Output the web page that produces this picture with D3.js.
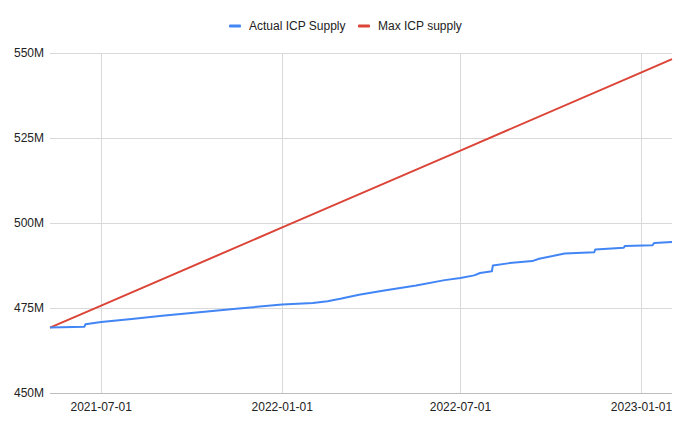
<!DOCTYPE html>
<html>
<head>
<meta charset="utf-8">
<script src="https://cdn.jsdelivr.net/npm/d3@7"></script>
<style>
  html, body { margin: 0; padding: 0; background: #fff; }
  svg { display: block; font-family: "Liberation Sans", Arial, sans-serif; }
</style>
</head>
<body>
<svg id="chart" width="690" height="427"></svg>
<script>
// ---- Data ----
const seriesNames = ["Actual ICP Supply", "Max ICP supply"];

const actualDates = [
  "2021-05-10", "2021-06-14", "2021-06-15", "2021-07-01", "2021-08-01", "2021-09-01",
  "2021-10-14", "2021-11-15", "2022-01-01", "2022-02-01", "2022-02-16", "2022-03-01",
  "2022-03-20", "2022-04-13", "2022-05-17", "2022-06-15", "2022-07-01", "2022-07-15",
  "2022-07-21", "2022-08-02", "2022-08-03", "2022-08-20", "2022-09-12", "2022-09-19",
  "2022-10-15", "2022-11-14", "2022-11-15", "2022-12-14", "2022-12-15", "2023-01-12",
  "2023-01-14", "2023-02-01"
];
const actualValues = [
  469.25, 469.5, 470.2, 470.9, 471.8, 472.7,
  473.9, 474.8, 476.0, 476.5, 477.0, 477.7,
  478.9, 480.1, 481.6, 483.2, 483.8, 484.6,
  485.3, 485.8, 487.5, 488.2, 488.8, 489.5,
  491.0, 491.4, 492.2, 492.7, 493.2, 493.45,
  494.15, 494.4
];

const maxDates = ["2021-05-10", "2021-07-01", "2022-01-01", "2022-07-01", "2023-01-01", "2023-02-01"];
const maxValues = [469.25, 475.7, 498.7, 521.3, 544.3, 548.2];

const yTicks = [450, 475, 500, 525, 550];
const xTickLabels = ["2021-07-01", "2022-01-01", "2022-07-01", "2023-01-01"];

// ---- Layout ----
const W = 690, H = 427;
const margin = { left: 50, right: 18, top: 53, bottom: 34 };
const parse = d3.utcParse("%Y-%m-%d");
const colors = ["#4285F4", "#DB4437"];

const svg = d3.select("#chart");

const x = d3.scaleUtc()
  .domain([parse("2021-05-10"), parse("2023-02-01")])
  .range([margin.left, W - margin.right]);
const y = d3.scaleLinear()
  .domain([450, 550])
  .range([H - margin.bottom, margin.top]);

// Grid: horizontal
svg.append("g")
  .selectAll("line")
  .data(yTicks)
  .join("line")
  .attr("x1", margin.left).attr("x2", W - margin.right)
  .attr("y1", d => Math.round(y(d)) + 0.5).attr("y2", d => Math.round(y(d)) + 0.5)
  .attr("stroke", d => d === 450 ? "#bdbdbd" : "#d9d9d9")
  .attr("stroke-width", 1);

// Grid: vertical
svg.append("g")
  .selectAll("line")
  .data(xTickLabels)
  .join("line")
  .attr("x1", d => Math.round(x(parse(d))) + 0.5).attr("x2", d => Math.round(x(parse(d))) + 0.5)
  .attr("y1", margin.top).attr("y2", H - margin.bottom)
  .attr("stroke", "#d9d9d9")
  .attr("stroke-width", 1);

// Y labels
svg.append("g")
  .selectAll("text")
  .data(yTicks)
  .join("text")
  .attr("x", margin.left - 6)
  .attr("y", d => y(d))
  .attr("dy", "0.35em")
  .attr("text-anchor", "end")
  .attr("font-size", 12)
  .attr("fill", "#222")
  .text(d => d + "M");

// X labels
svg.append("g")
  .selectAll("text")
  .data(xTickLabels)
  .join("text")
  .attr("x", d => x(parse(d)))
  .attr("y", H - margin.bottom + 18)
  .attr("text-anchor", "middle")
  .attr("font-size", 12)
  .attr("fill", "#222")
  .text(d => d);

// Lines
const line = d3.line()
  .x(d => x(d[0]))
  .y(d => y(d[1]));

const maxData = maxDates.map((d, i) => [parse(d), maxValues[i]]);
const actData = actualDates.map((d, i) => [parse(d), actualValues[i]]);

svg.append("path")
  .datum(maxData)
  .attr("d", line)
  .attr("fill", "none")
  .attr("stroke", colors[1])
  .attr("stroke-width", 2);

svg.append("path")
  .datum(actData)
  .attr("d", line)
  .attr("fill", "none")
  .attr("stroke", colors[0])
  .attr("stroke-width", 2)
  .attr("stroke-linejoin", "round");

// Legend
const legendItems = [
  { name: seriesNames[0], color: colors[0], x: 229 },
  { name: seriesNames[1], color: colors[1], x: 358 }
];
const lg = svg.append("g");
legendItems.forEach(it => {
  lg.append("rect")
    .attr("x", it.x).attr("y", 24.5)
    .attr("width", 12).attr("height", 3)
    .attr("rx", 1)
    .attr("fill", it.color);
  lg.append("text")
    .attr("x", it.x + 20).attr("y", 30)
    .attr("font-size", 12)
    .attr("fill", "#222")
    .text(it.name);
});
</script>
</body>
</html>
